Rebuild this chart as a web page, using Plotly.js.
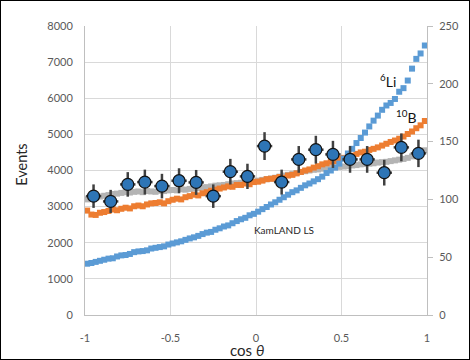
<!DOCTYPE html>
<html>
<head>
<meta charset="utf-8">
<script src="https://cdn.plot.ly/plotly-3.0.1.min.js"></script>
<style>
  html, body { margin: 0; padding: 0; background: #fff; }
  #frame { width: 470px; height: 360px; box-sizing: border-box; border: 1px solid #000; }
  #chart { width: 468px; height: 358px; }
</style>
</head>
<body>
<div id="frame"><div id="chart"></div></div>
<script>
// ---- data ----
const mcBinCount = 80;            // MC histogram bins over cos(theta) in [-1, 1]
const li6Events = [
  1420, 1440, 1470, 1500, 1530, 1560, 1570, 1620, 1650, 1660,
  1690, 1740, 1760, 1770, 1790, 1840, 1860, 1880, 1900, 1950,
  1980, 2010, 2040, 2080, 2120, 2150, 2190, 2240, 2280, 2300,
  2360, 2400, 2450, 2480, 2540, 2600, 2650, 2690, 2760, 2800,
  2860, 2930, 2990, 3060, 3120, 3190, 3260, 3330, 3400, 3450,
  3520, 3590, 3640, 3700, 3760, 3830, 3930, 4000, 4080, 4190,
  4330, 4470, 4600, 4760, 4900, 5050, 5220, 5380, 5520, 5680,
  5800, 5870, 5980, 6180, 6280, 6490, 6820, 7090, 7240, 7460
];
const b10Events = [
  2890, 2780, 2770, 2830, 2850, 2880, 2920, 2900, 2940, 2970,
  2950, 3010, 3030, 3010, 3060, 3090, 3100, 3120, 3090, 3150,
  3190, 3220, 3200, 3260, 3290, 3330, 3310, 3370, 3400, 3440,
  3470, 3500, 3530, 3560, 3550, 3600, 3600, 3640, 3620, 3680,
  3690, 3720, 3760, 3770, 3790, 3820, 3800, 3860, 3880, 3920,
  3960, 4000, 4030, 4080, 4120, 4170, 4200, 4240, 4260, 4320,
  4350, 4390, 4410, 4460, 4500, 4520, 4570, 4600, 4640, 4690,
  4740, 4790, 4830, 4880, 4940, 5010, 5080, 5170, 5250, 5370
];
const klsEvents = [
  3200, 3220, 3260, 3280, 3300, 3320, 3350, 3360, 3380, 3400,
  3390, 3410, 3420, 3400, 3430, 3420, 3410, 3440, 3430, 3450,
  3460, 3450, 3480, 3470, 3490, 3500, 3510, 3530, 3540, 3560,
  3580, 3590, 3600, 3620, 3640, 3650, 3660, 3680, 3700, 3700,
  3720, 3740, 3760, 3780, 3800, 3830, 3860, 3880, 3900, 3930,
  3960, 3980, 4000, 4020, 4030, 4050, 4060, 4070, 4090, 4100,
  4110, 4120, 4140, 4150, 4170, 4180, 4190, 4200, 4220, 4230,
  4240, 4260, 4280, 4300, 4320, 4350, 4390, 4430, 4480, 4560
];
const dataCos = [-0.95, -0.85, -0.75, -0.65, -0.55, -0.45, -0.35, -0.25, -0.15, -0.05,
                 0.05, 0.15, 0.25, 0.35, 0.45, 0.55, 0.65, 0.75, 0.85, 0.95];
const dataEvents = [3290, 3144, 3615, 3679, 3568, 3717, 3670, 3290, 3967, 3837,
                    4676, 3679, 4307, 4576, 4446, 4307, 4307, 3939, 4640, 4474];
const dataErr = [325, 320, 340, 345, 340, 345, 345, 325, 355, 350,
                 385, 345, 370, 385, 375, 370, 370, 355, 385, 380];
const dataCosHalfWidth = [0.045, 0.045, 0.045, 0.045, 0.045, 0.045, 0.045, 0.045, 0.045, 0.045,
                          0.045, 0.045, 0.045, 0.045, 0.045, 0.045, 0.045, 0.045, 0.045, 0.045];
const leftTicks = [0, 1000, 2000, 3000, 4000, 5000, 6000, 7000, 8000];
const rightTicks = [0, 50, 100, 150, 200, 250];
const xTicks = [-1, -0.5, 0, 0.5, 1];
const xTickText = ['-1', '-0.5', '0', '0.5', '1'];

// ---- chart ----
const binW = 2 / mcBinCount;
const mcCos = li6Events.map((_, i) => -1 + binW * (i + 0.5));
const FONT = 'Lato, "Open Sans", "Liberation Sans", sans-serif';

function mcTrace(y, color, name) {
  return {
    type: 'scatter', mode: 'markers', x: mcCos, y: y, name: name,
    marker: { symbol: 'square', size: 6, color: color, line: { width: 0 } },
    hoverinfo: 'skip'
  };
}

const traces = [
  mcTrace(klsEvents, '#B4B4B4', 'KamLAND LS'),
  mcTrace(b10Events, '#ED7D31', '10B'),
  mcTrace(li6Events, '#5B9BD5', '6Li'),
  {
    type: 'scatter', mode: 'markers', x: dataCos, y: dataEvents, name: 'data',
    marker: { symbol: 'circle', size: 12, color: '#2E75B6', line: { color: '#111', width: 1.2 } },
    error_y: { type: 'data', array: dataErr, visible: true, color: '#404040', thickness: 2.5, width: 0 },
    error_x: { type: 'data', array: dataCosHalfWidth, visible: true, color: '#404040', thickness: 2.5, width: 0 }
  },
  { // invisible trace to activate the secondary axis
    type: 'scatter', mode: 'markers', x: [0], y: [0], yaxis: 'y2',
    marker: { opacity: 0 }, hoverinfo: 'skip', showlegend: false
  }
];

const layout = {
  width: 468, height: 358,
  margin: { l: 84, r: 42, t: 25, b: 44, pad: 0 },
  paper_bgcolor: '#fff', plot_bgcolor: '#fff',
  showlegend: false,
  font: { family: FONT, size: 11, color: '#595959' },
  xaxis: {
    range: [-1, 1], tickvals: xTicks, ticktext: xTickText,
    showgrid: true, gridcolor: '#D9D9D9', gridwidth: 1,
    zeroline: false, showline: true, linecolor: '#BFBFBF', linewidth: 1,
    ticks: '', ticklabelstandoff: 13,
    tickfont: { family: FONT, size: 11, color: '#595959' }
  },
  yaxis: {
    range: [0, 8000], tickvals: leftTicks,
    showgrid: true, gridcolor: '#D9D9D9', gridwidth: 1,
    zeroline: false, showline: true, linecolor: '#BFBFBF', linewidth: 1,
    ticks: '', ticklabelstandoff: 9,
    tickfont: { family: FONT, size: 11, color: '#595959' }
  },
  yaxis2: {
    range: [0, 250], tickvals: rightTicks, overlaying: 'y', side: 'right',
    showgrid: false, zeroline: false, showline: true, linecolor: '#BFBFBF', linewidth: 1,
    ticks: 'outside', ticklen: 5, tickcolor: '#BFBFBF', ticklabelstandoff: 4,
    tickfont: { family: FONT, size: 11, color: '#595959' }
  },
  annotations: [
    { xref: 'paper', yref: 'paper', x: -0.184, y: 0.52, text: 'Events', textangle: -90,
      showarrow: false, xanchor: 'center', yanchor: 'middle',
      font: { family: FONT, size: 14.5, color: '#262626' } },
    { xref: 'paper', yref: 'paper', x: 0.4725, y: -0.122, text: 'cos <i>θ</i>',
      showarrow: false, xanchor: 'center', yanchor: 'middle',
      font: { family: FONT, size: 15, color: '#262626' } },
    { xref: 'x', yref: 'y', x: 0.772, y: 6496, text: '<sup>6</sup>Li',
      showarrow: false, xanchor: 'center', yanchor: 'middle',
      font: { family: FONT, size: 14, color: '#111' } },
    { xref: 'x', yref: 'y', x: 0.877, y: 5499, text: '<sup>10</sup>B',
      showarrow: false, xanchor: 'center', yanchor: 'middle',
      font: { family: FONT, size: 14, color: '#111' } },
    { xref: 'x', yref: 'y', x: 0.164, y: 2341, text: 'KamLAND LS',
      showarrow: false, xanchor: 'center', yanchor: 'middle',
      font: { family: FONT, size: 10, color: '#262626' } }
  ]
};

Plotly.newPlot('chart', traces, layout, { staticPlot: true, displayModeBar: false });
</script>
</body>
</html>
